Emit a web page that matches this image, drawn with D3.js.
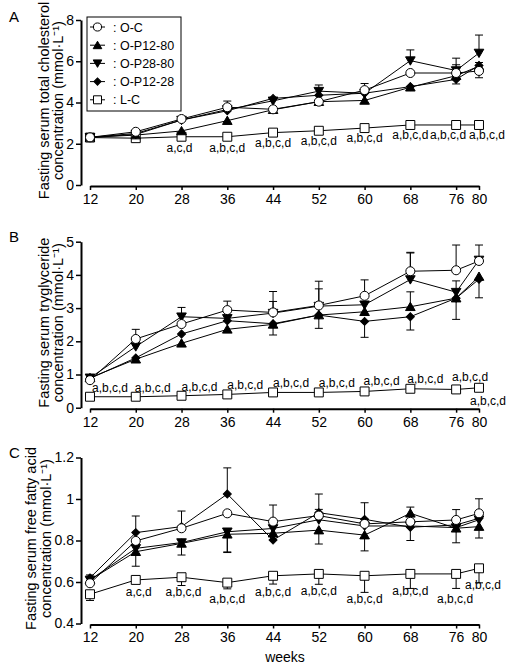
<!DOCTYPE html>
<html><head><meta charset="utf-8">
<script src="https://cdn.jsdelivr.net/npm/d3@7"></script>
<style>
body{margin:0;background:#fff;}
svg text{font-family:"Liberation Sans",Arial,Helvetica,sans-serif;fill:#000;}
</style></head><body>
<svg id="chart" width="507" height="665"></svg>
<script>
// ---------- data ----------
const weeks = [12, 20, 28, 36, 44, 52, 60, 68, 76, 80];
const seriesNames = ["O-C", "O-P12-80", "O-P28-80", "O-P12-28", "L-C"];

// Panel A: total cholesterol (mmol/L)
const cholOC    = [2.31, 2.58, 3.20, 3.77, 3.67, 4.04, 4.60, 5.43, 5.43, 5.53];
const cholP1280 = [2.31, 2.42, 2.62, 3.12, 3.65, 4.04, 4.10, 4.74, 5.30, 5.76];
const cholP2880 = [2.31, 2.45, 3.15, 3.66, 4.08, 4.55, 4.45, 6.03, 5.55, 6.40];
const cholP1228 = [2.31, 2.50, 3.15, 3.60, 4.20, 4.35, 4.45, 4.77, 5.12, 5.80];
const cholLC    = [2.30, 2.27, 2.34, 2.34, 2.54, 2.63, 2.76, 2.91, 2.91, 2.91];
// error bars (+ = drawn upward, - = drawn downward, 0 = hidden)
const cholErrOC    = [0, 0, 0, 0.30, -0.15, 0, 0.32, 0, 0.40, -0.33];
const cholErrP1280 = [0, 0, 0, 0, 0, 0, 0, 0, 0, 0.18];
const cholErrP2880 = [0, 0, 0, 0, 0, 0.30, 0, 0.52, 0.60, 0.87];
const cholErrP1228 = [0, 0, 0, 0, 0, 0, 0, 0, -0.22, 0];
const cholErrLC    = [0, 0, 0, 0, 0, 0, 0, 0, 0, 0];
const cholLabels   = ["", "", "a,c,d", "a,b,c,d", "a,b,c,d", "a,b,c,d", "a,b,c,d", "a,b,c,d", "a,b,c,d", "a,b,c,d"];

// Panel B: triglyceride (mmol/L)
const tgOC    = [0.83, 2.07, 2.52, 2.94, 2.87, 3.08, 3.37, 4.11, 4.14, 4.42];
const tgP1280 = [0.90, 1.46, 1.94, 2.36, 2.51, 2.79, 2.89, 3.04, 3.30, 3.95];
const tgP2880 = [0.90, 1.84, 2.74, 2.69, 2.85, 3.06, 3.10, 3.86, 3.48, 4.45];
const tgP1228 = [0.88, 1.50, 2.22, 2.62, 2.53, 2.79, 2.60, 2.74, 3.30, 3.87];
const tgLC    = [0.33, 0.33, 0.36, 0.40, 0.46, 0.46, 0.49, 0.57, 0.55, 0.60];
const tgErrOC    = [0, 0.29, 0, 0.27, 0.63, 0.73, 0.48, 0.57, 0.76, 0.48];
const tgErrP1280 = [0, 0, 0, 0, -0.32, 0, 0, 0.45, 0, 0];
const tgErrP2880 = [0, 0, 0.28, 0, 0.35, 0.52, 0, 0.80, 0.34, 0];
const tgErrP1228 = [0, 0, 0, 0, 0, -0.40, -0.48, -0.40, -0.64, -0.56];
const tgErrLC    = [0, 0, 0, 0, 0, 0, 0, 0, 0, 0];
const tgLabels   = ["a,b,c,d", "a,b,c,d", "a,b,c,d", "a,b,c,d", "a,b,c,d", "a,b,c,d", "a,b,c,d", "a,b,c,d", "a,b,c,d", "a,b,c,d"];

// Panel C: free fatty acid (mmol/L)
const ffaOC    = [0.594, 0.798, 0.859, 0.931, 0.891, 0.920, 0.880, 0.890, 0.899, 0.931];
const ffaP1280 = [0.610, 0.746, 0.786, 0.830, 0.835, 0.850, 0.826, 0.931, 0.859, 0.867];
const ffaP2880 = [0.610, 0.762, 0.790, 0.842, 0.858, 0.900, 0.870, 0.870, 0.862, 0.900];
const ffaP1228 = [0.620, 0.838, 0.867, 1.024, 0.802, 0.934, 0.902, 0.864, 0.875, 0.907];
const ffaLC    = [0.541, 0.610, 0.623, 0.597, 0.630, 0.639, 0.630, 0.639, 0.639, 0.666];
const ffaErrOC    = [0.04, 0, 0, 0, 0.08, 0, 0, 0, 0.05, 0.07];
const ffaErrP1280 = [0, -0.07, 0, -0.085, 0, -0.067, -0.076, 0.03, -0.07, -0.055];
const ffaErrP2880 = [0, 0, -0.06, -0.10, 0, 0.05, 0, 0, 0, 0];
const ffaErrP1228 = [0, 0.08, 0.075, 0.126, 0, 0.09, 0.08, -0.064, 0, 0];
const ffaErrLC    = [-0.03, 0, -0.04, -0.03, -0.04, -0.05, -0.08, -0.07, -0.07, -0.07];
const ffaLabels   = ["", "a,c,d", "a,b,c,d", "a,b,c,d", "a,b,c,d", "a,b,c,d", "a,b,c,d", "a,b,c,d", "a,b,c,d", "a,b,c,d"];

const cholTicks = [0, 2, 4, 6, 8];
const tgTicks = [0, 1, 2, 3, 4, 5];
const ffaTicks = [0.4, 0.6, 0.8, 1.0, 1.2];

// ---------- drawing ----------
const svg = d3.select("#chart");
const x = d3.scaleLinear().domain([12, 80]).range([90, 479]);
const FONT = "Liberation Sans, Arial, sans-serif";

// marker shapes
const sym = {
  "O-C":      {type: d3.symbolCircle, size: 64, fill: "#fff", rot: 0},
  "O-P12-80": {type: d3.symbolTriangle, size: 40, fill: "#000", rot: 0},
  "O-P28-80": {type: d3.symbolTriangle, size: 40, fill: "#000", rot: 180},
  "O-P12-28": {type: d3.symbolSquare, size: 32, fill: "#000", rot: 45},
  "L-C":      {type: d3.symbolSquare, size: 80, fill: "#fff", rot: 0}
};
const drawOrder = ["L-C", "O-P12-28", "O-P12-80", "O-P28-80", "O-C"];

function panel(cfg) {
  const y = d3.scaleLinear().domain(cfg.domain).range(cfg.range);
  const g = svg.append("g");
  // y axis
  const ya = g.append("g").attr("transform", "translate(81,0)")
    .call(d3.axisLeft(y).tickValues(cfg.ticks).tickSize(5).tickSizeOuter(0).tickFormat(cfg.fmt));
  ya.select(".domain").attr("stroke-width", 2);
  ya.selectAll(".tick line").attr("stroke-width", 1.5);
  ya.selectAll("text").attr("font-size", 14).attr("x", -7).style("font-family", FONT);
  // x axis
  const xa = g.append("g").attr("transform", `translate(0,${cfg.range[0] + 1})`)
    .call(d3.axisBottom(x).tickValues(weeks).tickSize(4).tickSizeOuter(0));
  xa.select(".domain").attr("stroke-width", 2);
  xa.selectAll(".tick line").attr("stroke-width", 1.5);
  xa.selectAll("text").attr("font-size", 14).attr("y", 8).style("font-family", FONT);
  // panel letter
  g.append("text").attr("x", 9).attr("y", cfg.letterY).attr("font-size", 15).text(cfg.letter);
  // y title
  const cy = (cfg.range[0] + cfg.range[1]) / 2 - 2;
  cfg.title.forEach((t, i) => {
    g.append("text").attr("transform", `translate(${cfg.titleX[i]},${cy}) rotate(-90)`)
      .attr("text-anchor", "middle").attr("font-size", 14.5).text(t);
  });
  // lines
  const line = d3.line().x((d, i) => x(weeks[i])).y(d => y(d));
  drawOrder.forEach(name => {
    g.append("path").attr("d", line(cfg.values[name])).attr("fill", "none")
      .attr("stroke", "#000").attr("stroke-width", 1);
  });
  // error bars
  drawOrder.forEach(name => {
    const v = cfg.values[name], e = cfg.errors[name];
    v.forEach((val, i) => {
      if (!e[i]) return;
      const xi = x(weeks[i]), y0 = y(val), y1 = y(val + e[i]);
      g.append("line").attr("x1", xi).attr("x2", xi).attr("y1", y0).attr("y2", y1)
        .attr("stroke", "#000").attr("stroke-width", 1);
      g.append("line").attr("x1", xi - 4).attr("x2", xi + 4).attr("y1", y1).attr("y2", y1)
        .attr("stroke", "#000").attr("stroke-width", 1);
    });
  });
  // markers
  drawOrder.forEach(name => {
    const s = sym[name];
    const p = d3.symbol().type(s.type).size(s.size)();
    cfg.values[name].forEach((val, i) => {
      let ty = y(val);
      if (s.type === d3.symbolTriangle) ty += (s.rot ? -1 : 1);
      g.append("path").attr("d", p)
        .attr("transform", `translate(${x(weeks[i])},${ty}) rotate(${s.rot})`)
        .attr("fill", s.fill).attr("stroke", "#000").attr("stroke-width", 1);
    });
  });
  // significance labels
  cfg.labels.forEach((t, i) => {
    if (!t) return;
    const off = cfg.labelOffsets[i];
    g.append("text").attr("x", x(weeks[i]) + off[0]).attr("y", y(cfg.values["L-C"][i]) + off[1])
      .attr("text-anchor", "middle").attr("font-size", 12).text(t);
  });
}

panel({
  letter: "A", letterY: 22, titleX: [49, 63],
  domain: [0, 8], range: [185, 20], ticks: cholTicks, fmt: d3.format("d"),
  title: ["Fasting serum total cholesterol", "concentration (mmol·L\u207B\u00B9)"],
  values: {"O-C": cholOC, "O-P12-80": cholP1280, "O-P28-80": cholP2880, "O-P12-28": cholP1228, "L-C": cholLC},
  errors: {"O-C": cholErrOC, "O-P12-80": cholErrP1280, "O-P28-80": cholErrP2880, "O-P12-28": cholErrP1228, "L-C": cholErrLC},
  labels: cholLabels,
  labelOffsets: [[0,0],[0,0],[-2,15],[0,15],[0,14],[0,14],[0,14],[0,14],[-8,14],[8,14]]
});

panel({
  letter: "B", letterY: 242, titleX: [49, 63],
  domain: [0, 5], range: [407.7, 241.7], ticks: tgTicks, fmt: d3.format("d"),
  title: ["Fasting serum tryglyceride", "concentration (mmol·L\u207B\u00B9)"],
  values: {"O-C": tgOC, "O-P12-80": tgP1280, "O-P28-80": tgP2880, "O-P12-28": tgP1228, "L-C": tgLC},
  errors: {"O-C": tgErrOC, "O-P12-80": tgErrP1280, "O-P28-80": tgErrP2880, "O-P12-28": tgErrP1228, "L-C": tgErrLC},
  labels: tgLabels,
  labelOffsets: [[20,-5],[17,-5],[18,-5],[18,-5],[18,-5],[18,-5],[17,-6],[15,-6],[14,-8],[9,17]]
});

panel({
  letter: "C", letterY: 458, titleX: [36, 51],
  domain: [0.4, 1.2], range: [623.5, 457.5], ticks: ffaTicks, fmt: d => d === 1 ? "1" : d3.format(".1f")(d),
  title: ["Fasting serum free fatty acid", "concentration (mmol·L\u207B\u00B9)"],
  values: {"O-C": ffaOC, "O-P12-80": ffaP1280, "O-P28-80": ffaP2880, "O-P12-28": ffaP1228, "L-C": ffaLC},
  errors: {"O-C": ffaErrOC, "O-P12-80": ffaErrP1280, "O-P28-80": ffaErrP2880, "O-P12-28": ffaErrP1228, "L-C": ffaErrLC},
  labels: ffaLabels,
  labelOffsets: [[0,0],[3,16],[2,19],[0,20],[0,20],[0,21],[0,27],[0,21],[-1,29],[4,21]]
});

// x title
svg.append("text").attr("x", 285).attr("y", 662).attr("text-anchor", "middle")
  .attr("font-size", 14).text("weeks");

// legend (panel A)
const lg = svg.append("g");
lg.append("rect").attr("x", 87).attr("y", 17).attr("width", 94).attr("height", 94)
  .attr("fill", "#fff").attr("stroke", "#000").attr("stroke-width", 1);
seriesNames.forEach((name, i) => {
  const yy = 27 + i * 18.2;
  lg.append("line").attr("x1", 90).attr("x2", 105).attr("y1", yy).attr("y2", yy)
    .attr("stroke", "#000").attr("stroke-width", 1);
  const s = sym[name];
  lg.append("path").attr("d", d3.symbol().type(s.type).size(s.size * 0.8)())
    .attr("transform", `translate(97.5,${yy + (s.type === d3.symbolTriangle ? (s.rot ? -1 : 1) : 0)}) rotate(${s.rot})`)
    .attr("fill", s.fill).attr("stroke", "#000");
  lg.append("text").attr("x", 113).attr("y", yy + 4.5).attr("font-size", 12.5).text(": " + name);
});
</script>
</body></html>
